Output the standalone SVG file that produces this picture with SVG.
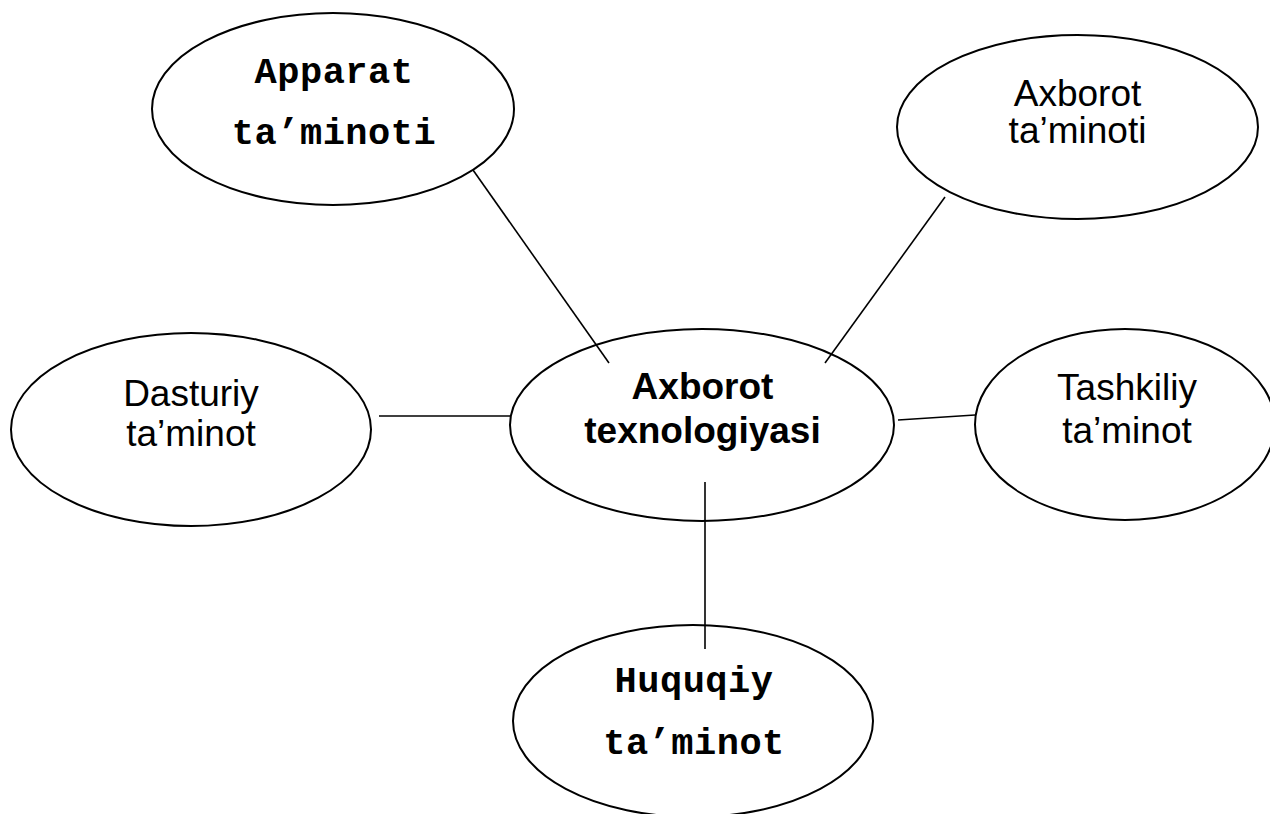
<svg xmlns="http://www.w3.org/2000/svg" width="1270" height="814" viewBox="0 0 1270 814">
<style>
.node ellipse{fill:#fff;stroke:#000;stroke-width:2}
.conn line{stroke:#000;stroke-width:1.6}
.sans{font-family:"Liberation Sans",Arial,sans-serif;font-size:37px;fill:#000;text-anchor:middle}
.bold{font-weight:bold}
.mono{font-family:"Liberation Mono","Courier New",monospace;font-size:37px;font-weight:bold;fill:#000;text-anchor:middle;letter-spacing:0.5px}
</style>
<rect width="1270" height="814" fill="#fff"/>
<g id="apparat" class="node">
<ellipse cx="333" cy="109" rx="181" ry="96"/>
<text class="mono" x="334" y="83">Apparat</text>
<text class="mono" x="334" y="144">ta’minoti</text>
</g>
<g id="axborot-taminoti" class="node">
<ellipse cx="1077.5" cy="127" rx="180.5" ry="92"/>
<text class="sans" x="1077.5" y="106">Axborot</text>
<text class="sans" x="1077.5" y="143">ta’minoti</text>
</g>
<g id="dasturiy" class="node">
<ellipse cx="191" cy="429.5" rx="180" ry="96.5"/>
<text class="sans" x="191" y="406">Dasturiy</text>
<text class="sans" x="191" y="446">ta’minot</text>
</g>
<g id="center" class="node">
<ellipse cx="702" cy="425" rx="192" ry="96"/>
<text class="sans bold" x="702.5" y="399">Axborot</text>
<text class="sans bold" x="702.5" y="443">texnologiyasi</text>
</g>
<g id="tashkiliy" class="node">
<ellipse cx="1125" cy="424.5" rx="150" ry="95.5"/>
<text class="sans" x="1127" y="400">Tashkiliy</text>
<text class="sans" x="1127" y="443">ta’minot</text>
</g>
<g id="huquqiy" class="node">
<ellipse cx="693" cy="721" rx="180" ry="96"/>
<text class="mono" x="694" y="692">Huquqiy</text>
<text class="mono" x="694" y="754">ta’minot</text>
</g>
<g id="connectors" class="conn">
<line x1="473" y1="170" x2="609" y2="363"/>
<line x1="945" y1="197" x2="825" y2="363"/>
<line x1="379" y1="416" x2="510" y2="416"/>
<line x1="898" y1="420" x2="975" y2="415"/>
<line x1="705" y1="482" x2="705" y2="649"/>
</g>
</svg>
